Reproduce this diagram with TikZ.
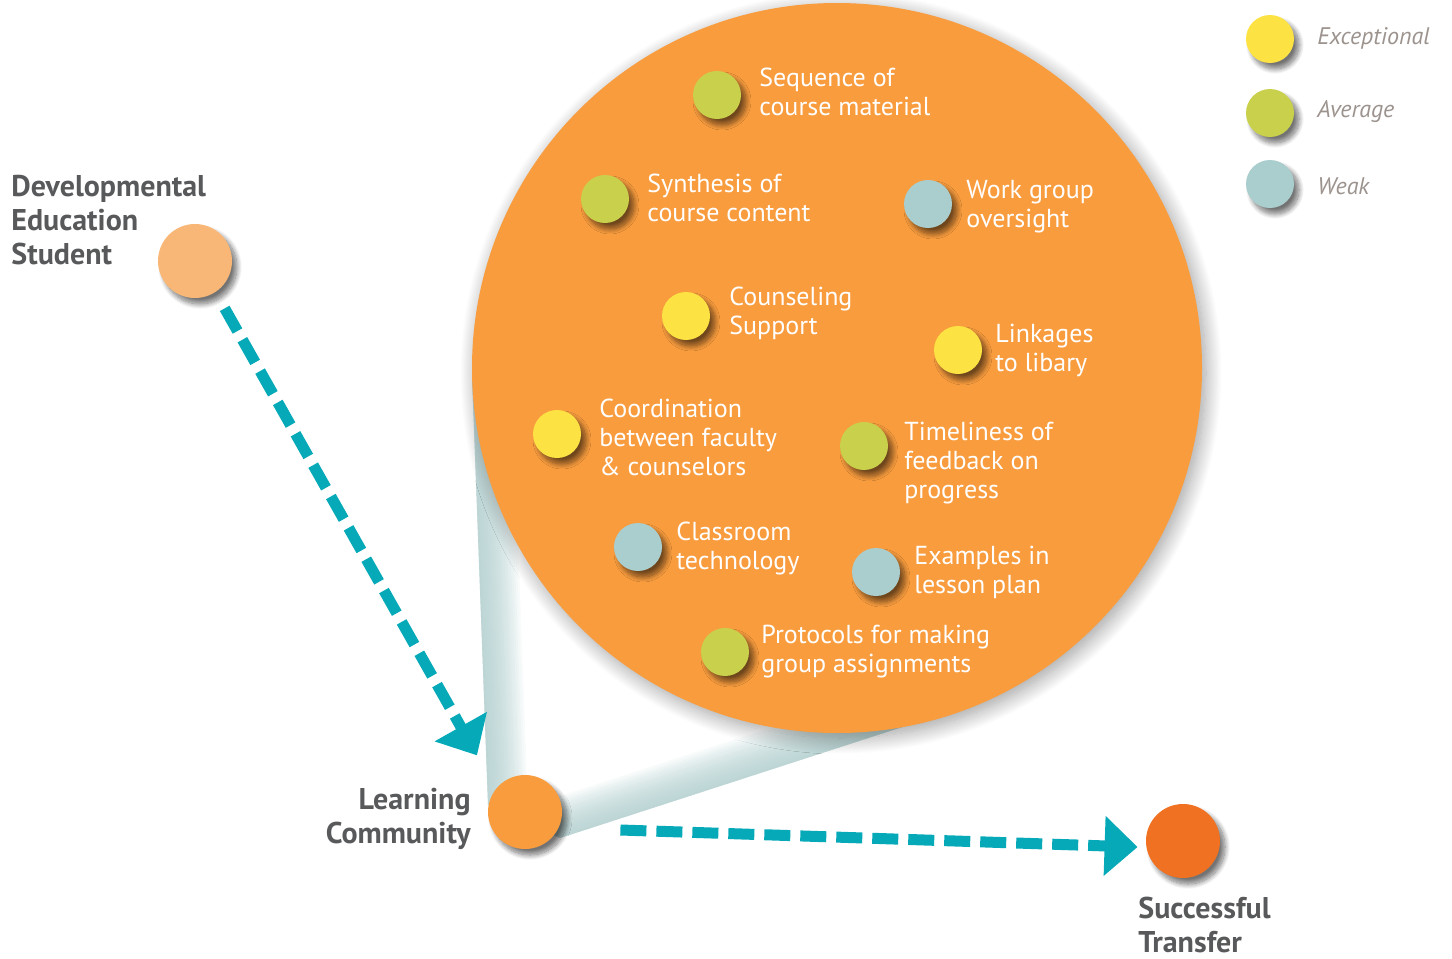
\documentclass[tikz,border=0pt]{standalone}
\usepackage{fontspec}
\setmainfont{PT Sans}
\usetikzlibrary{arrows.meta,shadows.blur}

\definecolor{bigorange}{HTML}{F89C3E}
\definecolor{paleorange}{HTML}{F8B776}
\definecolor{deeporange}{HTML}{F07122}
\definecolor{goodyellow}{HTML}{FDE244}
\definecolor{midgreen}{HTML}{C9D04B}
\definecolor{weakblue}{HTML}{AACDCD}
\definecolor{arrowteal}{HTML}{05A9B7}
\definecolor{conec}{HTML}{A9C9C9}
\definecolor{labelgrey}{HTML}{58595B}
\definecolor{keygrey}{HTML}{9C938E}

\tikzset{
  softshadow/.style={blur shadow={shadow xshift=2.5pt,shadow yshift=-3pt,shadow blur radius=2.5pt,shadow blur steps=12,shadow opacity=55}},
  stage/.style={circle,minimum size=37pt,inner sep=0pt,softshadow},
  rating/.style={circle,minimum size=24pt,inner sep=0pt,softshadow},
  inlabel/.style={anchor=west,align=left,inner sep=0pt,text=white,font=\fontsize{13}{14.5}\selectfont},
  sidelabel/.style={align=left,inner sep=0pt,text=labelgrey,font=\bfseries\fontsize{15}{17}\selectfont},
  keylabel/.style={anchor=west,inner sep=0pt,text=keygrey,font=\itshape\fontsize{12}{14}\selectfont},
  flow/.style={arrowteal,line width=5.5pt,dash pattern=on 13pt off 5pt,-{Triangle[length=16.5pt,width=29pt]}}
}

\begin{document}
\begin{tikzpicture}[x=0.5pt,y=-0.5pt]
   \useasboundingbox (0,0) rectangle (1452,959);

   \begin{scope}
   \clip (488,805) -- (472,375) -- (930,718) -- (560,838) -- cycle;
   \foreach \w in {2,4,...,40}
     \draw [conec,opacity=0.07,line width=\w pt,line join=round] (472,375) -- (488,805) -- (560,838) -- (930,718);
   \end{scope}
 \node [circle,fill=bigorange,minimum size=365pt,inner sep=0pt,
        blur shadow={shadow xshift=2pt,shadow yshift=-2.5pt,shadow blur radius=8pt,shadow blur steps=20,shadow opacity=38}] (focus) at (837,368) {};

 \node [stage,fill=paleorange] (dev) at (195,261) {};
 \node [sidelabel,anchor=west] (devtxt) at (11,220) {Developmental\\Education\\Student};
 \node [stage,fill=bigorange] (lc) at (525,812) {};
 \node [sidelabel,anchor=east,align=right] (lctxt) at (471,819) {Learning\\Community};
 \node [stage,fill=deeporange] (st) at (1183,841) {};
 \node [sidelabel,anchor=west] (sttxt) at (1138,925) {Successful\\Transfer};

\draw [flow] ([shift={(11,15)}]dev.-60) -- ([shift={(-24,-28)}]lc.130);
\draw [flow] ([shift={(58,18)}]lc.east) -- ([shift={(-8,6)}]st.west);

 \node [rating,fill=midgreen] (seq) at (717,95) {};
 \node [inlabel] (seqtxt) at (759,92) {Sequence of\\course material};
 \node [rating,fill=midgreen] (syn) at (605,199) {};
 \node [inlabel] (syntxt) at (647,198) {Synthesis of\\course content};
 \node [rating,fill=weakblue] (work) at (928,204) {};
 \node [inlabel] (worktxt) at (966,207) {Work group\\oversight};
 \node [rating,fill=goodyellow] (couns) at (686,316) {};
 \node [inlabel] (counstxt) at (729,313) {Counseling\\Support};
 \node [rating,fill=goodyellow] (link) at (958,350) {};
 \node [inlabel] (linktxt) at (995,350) {Linkages\\to libary};
 \node [rating,fill=goodyellow] (coord) at (557,434) {};
 \node [inlabel] (coordtxt) at (599,437) {Coordination\\between faculty\\\& counselors};
 \node [rating,fill=midgreen] (time) at (864,446) {};
 \node [inlabel] (timetxt) at (904,463) {Timeliness of\\feedback on\\progress};
 \node [rating,fill=weakblue] (class) at (638,547) {};
 \node [inlabel] (classtxt) at (676,548) {Classroom\\technology};
 \node [rating,fill=weakblue] (examp) at (876,572) {};
 \node [inlabel] (examptxt) at (914,572) {Examples in\\lesson plan};
 \node [rating,fill=midgreen] (prot) at (725,652) {};
 \node [inlabel] (prottxt) at (761,652) {Protocols for making\\group assignments};

 \node [rating,fill=goodyellow] (keyex) at (1270,39) {};
 \node [keylabel] at (1317,38) {Exceptional};
 \node [rating,fill=midgreen] (keyav) at (1270,113) {};
 \node [keylabel] at (1317,112) {Average};
 \node [rating,fill=weakblue] (keywk) at (1270,184) {};
 \node [keylabel] at (1317,186) {Weak};

\end{tikzpicture}
\end{document}
